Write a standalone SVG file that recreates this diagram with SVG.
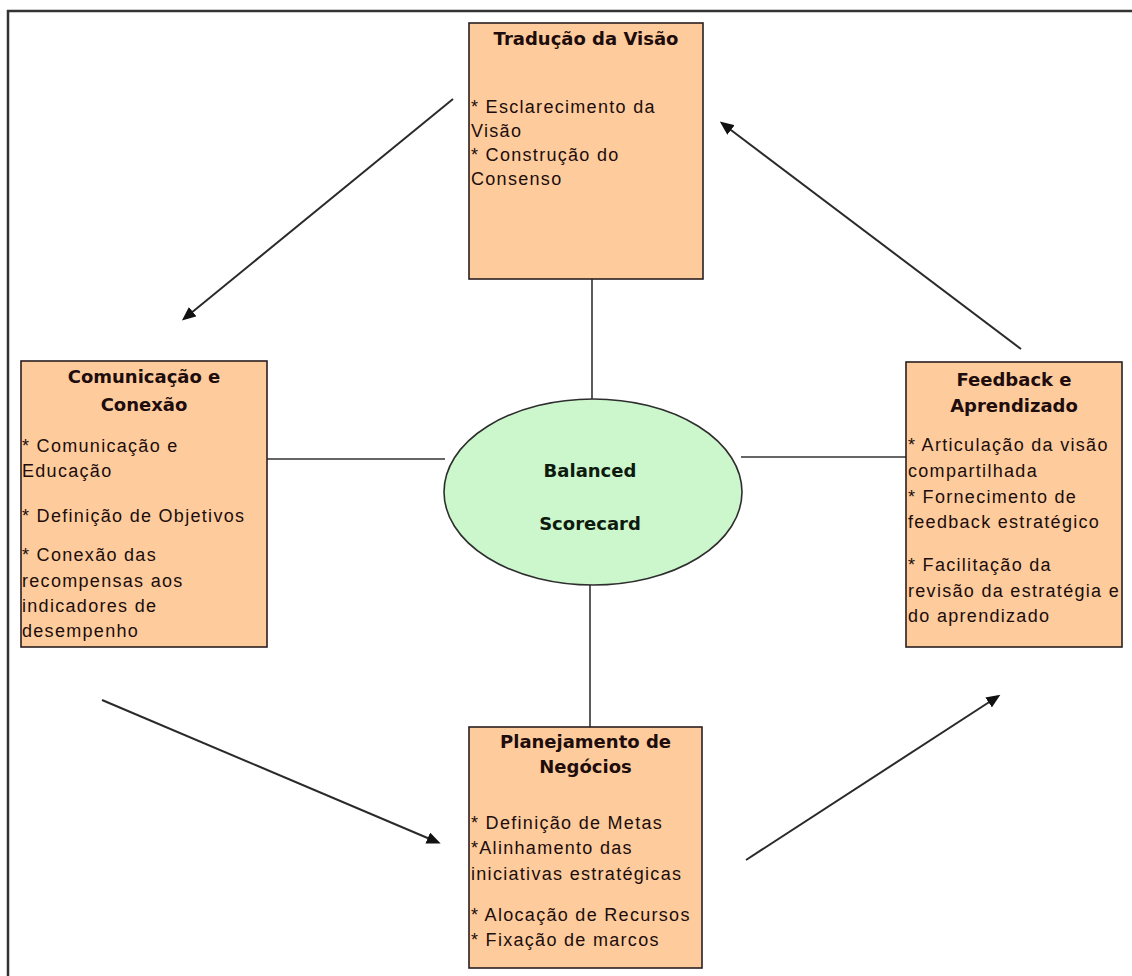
<svg xmlns="http://www.w3.org/2000/svg" width="1132" height="976" viewBox="0 0 1132 976">
<defs>
<style>
.box{fill:#fecc9c;stroke:#2a2020;stroke-width:1.6}
.ell{fill:#ccf7cc;stroke:#2e2e2e;stroke-width:1.6}
.title{font-family:"DejaVu Sans",Verdana,sans-serif;font-weight:bold;font-size:18px;fill:#200c0c;text-anchor:middle}
.ctitle{font-family:"DejaVu Sans",Verdana,sans-serif;font-weight:bold;font-size:18px;fill:#0d1a0d;text-anchor:middle}
.body{font-family:"Liberation Sans",Arial,sans-serif;font-size:18px;fill:#200c0c;letter-spacing:1.3px}
.link{stroke:#333;stroke-width:1.6;fill:none}
.arrow{stroke:#2a2a2a;stroke-width:2;fill:none;marker-end:url(#ah)}
.frame{stroke:#333;stroke-width:2.5;fill:none}
</style>
<marker id="ah" markerUnits="userSpaceOnUse" markerWidth="16" markerHeight="12" refX="10" refY="6" orient="auto">
<path d="M0,0 L14,6 L0,12 Z" fill="#111"/>
</marker>
</defs>
<rect width="1132" height="976" fill="#fff"/>
<g id="frame">
<line class="frame" x1="7" y1="11" x2="1132" y2="11"/>
<line class="frame" x1="8" y1="10" x2="8" y2="976"/>
</g>
<g id="connectors">
<line class="link" x1="592" y1="279" x2="592" y2="400"/>
<line class="link" x1="267" y1="459" x2="445" y2="459"/>
<line class="link" x1="741" y1="457" x2="906" y2="457"/>
<line class="link" x1="590" y1="585" x2="590" y2="727"/>
<line class="arrow" x1="453" y1="99" x2="185" y2="318"/>
<line class="arrow" x1="1021" y1="349" x2="723" y2="124"/>
<line class="arrow" x1="102" y1="700" x2="437" y2="842"/>
<line class="arrow" x1="746" y1="860" x2="997" y2="697"/>
</g>
<g id="traducao">
<rect class="box" x="469" y="23" width="234" height="256"/>
<text class="title" x="586" y="45">Tradução da Visão</text>
<text class="body" x="471" y="113">* Esclarecimento da</text>
<text class="body" x="471" y="137">Visão</text>
<text class="body" x="471" y="161">* Construção do</text>
<text class="body" x="471" y="185">Consenso</text>
</g>
<g id="comunicacao">
<rect class="box" x="21" y="361" width="246" height="286"/>
<text class="title" x="144" y="383">Comunicação e</text>
<text class="title" x="144" y="411">Conexão</text>
<text class="body" x="22" y="452">* Comunicação e</text>
<text class="body" x="22" y="477">Educação</text>
<text class="body" x="22" y="522">* Definição de Objetivos</text>
<text class="body" x="22" y="561">* Conexão das</text>
<text class="body" x="22" y="587">recompensas aos</text>
<text class="body" x="22" y="612">indicadores de</text>
<text class="body" x="22" y="637">desempenho</text>
</g>
<g id="feedback">
<rect class="box" x="906" y="362" width="216" height="285"/>
<text class="title" x="1014" y="386">Feedback e</text>
<text class="title" x="1014" y="412">Aprendizado</text>
<text class="body" x="908" y="451">* Articulação da visão</text>
<text class="body" x="908" y="477">compartilhada</text>
<text class="body" x="908" y="503">* Fornecimento de</text>
<text class="body" x="908" y="528">feedback estratégico</text>
<text class="body" x="908" y="571">* Facilitação da</text>
<text class="body" x="908" y="597">revisão da estratégia e</text>
<text class="body" x="908" y="622">do aprendizado</text>
</g>
<g id="planejamento">
<rect class="box" x="469" y="727" width="233" height="241"/>
<text class="title" x="585.5" y="748">Planejamento de</text>
<text class="title" x="585.5" y="773">Negócios</text>
<text class="body" x="471" y="829">* Definição de Metas</text>
<text class="body" x="471" y="854">*Alinhamento das</text>
<text class="body" x="471" y="880">iniciativas estratégicas</text>
<text class="body" x="471" y="921">* Alocação de Recursos</text>
<text class="body" x="471" y="946">* Fixação de marcos</text>
</g>
<g id="bsc">
<ellipse class="ell" cx="593" cy="492" rx="149" ry="93"/>
<text class="ctitle" x="590" y="477">Balanced</text>
<text class="ctitle" x="590" y="530">Scorecard</text>
</g>
</svg>
